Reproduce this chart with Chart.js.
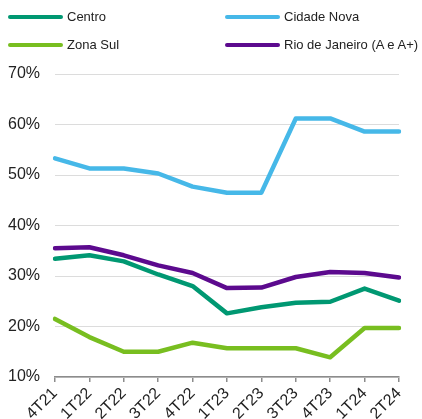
<!DOCTYPE html>
<html>
<head>
<meta charset="utf-8">
<script src="https://cdn.jsdelivr.net/npm/chart.js@4"></script>
<style>
    html, body { margin: 0; padding: 0; background: #fff; }
    #wrap { position: relative; width: 422px; height: 419px; overflow: hidden; font-family: "Liberation Sans", Arial, sans-serif; }
    #chart { position: absolute; left: 0; top: 0; }
    .leg { position: absolute; font-size: 13px; color: #222; line-height: 16px; white-space: nowrap; }
    .leg span.sw { display: inline-block; width: 55px; height: 4px; border-radius: 2px; vertical-align: middle; margin-right: 4px; position: relative; top: -1px; }
</style>
</head>
<body>
<div id="wrap">
    <canvas id="chart" width="422" height="419"></canvas>
</div>
<script>
    // dados
    var quarters = ['4T21', '1T22', '2T22', '3T22', '4T22', '1T23', '2T23', '3T23', '4T23', '1T24', '2T24'];
    var centro = [33.4, 34.1, 32.9, 30.3, 28.0, 22.6, 23.8, 24.7, 24.9, 27.5, 25.1];
    var cidadeNova = [53.3, 51.3, 51.3, 50.3, 47.7, 46.5, 46.5, 61.2, 61.2, 58.6, 58.6];
    var zonaSul = [21.5, 17.9, 15.0, 15.0, 16.8, 15.7, 15.7, 15.7, 13.9, 19.7, 19.7];
    var rio = [35.5, 35.7, 34.1, 32.1, 30.6, 27.6, 27.7, 29.8, 30.8, 30.6, 29.7];
    var yTicks = [10, 20, 30, 40, 50, 60, 70];

    var series = [
        {label: 'Centro', data: centro, color: '#009872', x: 8, y: 9},
        {label: 'Cidade Nova', data: cidadeNova, color: '#46B8E8', x: 225, y: 9},
        {label: 'Zona Sul', data: zonaSul, color: '#78BE20', x: 8, y: 37},
        {label: 'Rio de Janeiro (A e A+)', data: rio, color: '#5C0A8E', x: 225, y: 37}
    ];

    // legenda em duas colunas
    var wrap = document.getElementById('wrap');
    series.forEach(function (s) {
        var d = document.createElement('div');
        d.className = 'leg';
        d.style.left = s.x + 'px';
        d.style.top = s.y + 'px';
        d.innerHTML = '<span class="sw" style="background:' + s.color + '"></span>' + s.label;
        wrap.appendChild(d);
    });

    var ctx = document.getElementById('chart').getContext('2d');
    new Chart(ctx, {
        type: 'line',
        data: {
            labels: quarters,
            datasets: series.map(function (s) {
                return {
                    label: s.label,
                    data: s.data,
                    borderColor: s.color,
                    backgroundColor: s.color,
                    borderWidth: 4.5,
                    pointRadius: 0,
                    tension: 0,
                    borderCapStyle: 'round',
                    borderJoinStyle: 'round'
                };
            })
        },
        options: {
            responsive: false,
            animation: false,
            layout: {padding: {top: 74, right: 23, left: 0, bottom: 0}},
            plugins: {legend: {display: false}, tooltip: {enabled: false}},
            scales: {
                x: {
                    offset: false,
                    afterFit: function (scale) { scale.height = 42; },
                    border: {display: true, color: '#8c8c8c', width: 1.5},
                    grid: {drawOnChartArea: false, drawTicks: true, tickLength: 5, color: '#8c8c8c', lineWidth: 1.5},
                    ticks: {
                        color: '#222',
                        font: {family: '"Liberation Sans", Arial, sans-serif', size: 16},
                        minRotation: 45, maxRotation: 45, autoSkip: false, padding: 2
                    }
                },
                y: {
                    min: 10, max: 70,
                    afterFit: function (scale) { scale.width = 55; },
                    afterBuildTicks: function (scale) {
                        scale.ticks = yTicks.map(function (v) { return {value: v}; });
                    },
                    border: {display: false},
                    grid: {color: '#dcdcdc', lineWidth: 1, drawTicks: false},
                    ticks: {
                        color: '#222',
                        padding: 15,
                        font: {family: '"Liberation Sans", Arial, sans-serif', size: 16},
                        callback: function (v) { return v + '%'; }
                    }
                }
            }
        }
    });
</script>
</body>
</html>
